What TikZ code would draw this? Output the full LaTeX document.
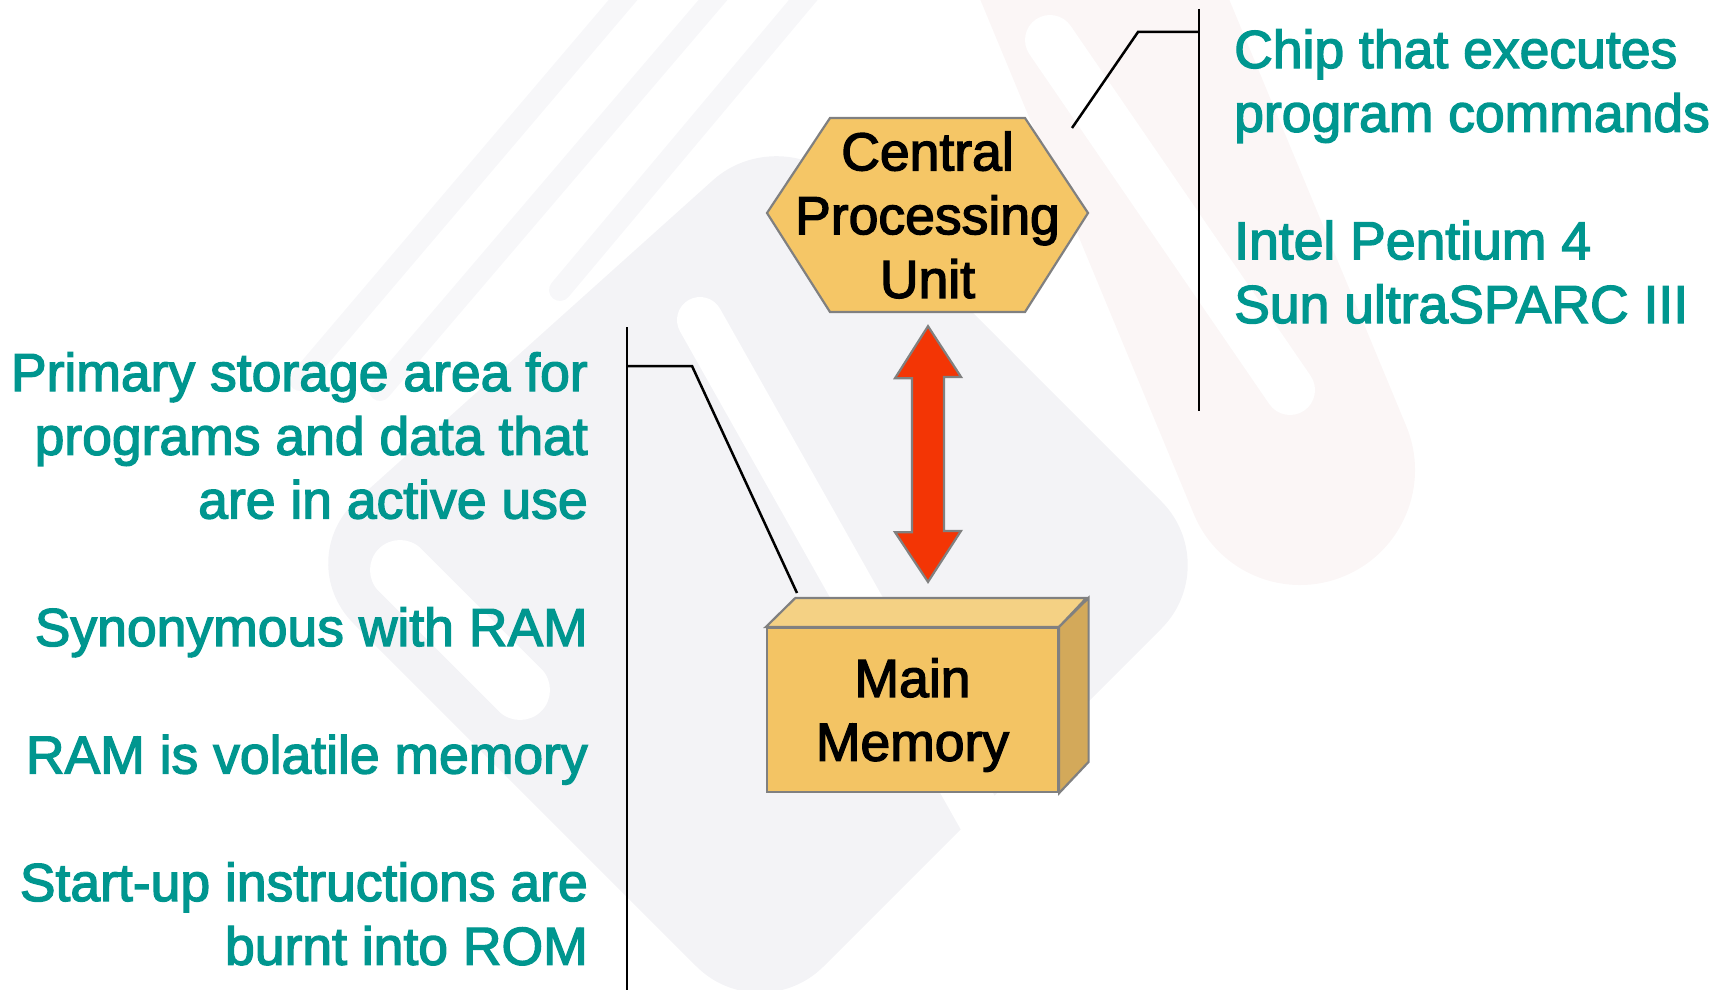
\documentclass[tikz,border=0pt]{standalone}
\usepackage{fontspec}
\setmainfont{Liberation Sans}[FakeBold=2.5]
\usetikzlibrary{calc}

\definecolor{notecol}{RGB}{0,150,143}
\definecolor{edgegray}{RGB}{128,128,128}
\definecolor{hexcol}{RGB}{245,198,102}
\definecolor{frontcol}{RGB}{243,196,100}
\definecolor{topcol}{RGB}{244,209,132}
\definecolor{sidecol}{RGB}{211,169,90}
\definecolor{arrowcol}{RGB}{243,53,5}
\definecolor{wmgrey}{RGB}{243,243,246}
\definecolor{wmfaint}{RGB}{247,247,249}
\definecolor{wmpink}{RGB}{251,246,246}

\begin{document}
\begin{tikzpicture}[x=1pt, y=-1pt,
  bigfont/.style={font=\fontsize{53.5}{63.75}\selectfont},
  note/.style={bigfont, text=notecol, inner sep=0pt},
  boxlabel/.style={bigfont, text=black, align=center, inner sep=0pt},
  edge/.style={draw=edgegray, line width=2.2pt, line join=miter},
  callout/.style={draw=black, line width=2.5pt},
  wmband/.style={line cap=round, line width=#1}]

\useasboundingbox (0,0) rectangle (1729,990);

% faint logo in the background
\draw[wmband=230pt, wmpink] (1080,-60) -- (1300,470);
\draw[wmband=50pt, white] (1050,40) -- (1290,390);
\fill[wmgrey, rounded corners=90pt] (780,120) -- (1225,565) -- (760,1030) -- (290,560) -- cycle;
\draw[wmband=46pt, white] (700,320) -- (992,838);
\draw[wmband=60pt, white] (400,570) -- (520,690);
\draw[wmband=22pt, wmfaint] (640,-20) -- (300,380);
\draw[wmband=22pt, wmfaint] (730,-20) -- (380,390);
\draw[wmband=22pt, wmfaint] (820,-20) -- (560,290);

% central processing unit (hexagon)
\coordinate (cpuC) at (927.5,215);
\filldraw[fill=hexcol, edge]
  ($(cpuC)+(-160.5,-2)$) -- ($(cpuC)+(-97.5,-97)$) -- ($(cpuC)+(97.5,-97)$) --
  ($(cpuC)+(160.5,-2)$) -- ($(cpuC)+(97.5,97)$) -- ($(cpuC)+(-97.5,97)$) -- cycle;
\node[minimum width=321pt, minimum height=194pt, inner sep=0pt] (cpu) at (cpuC) {};
\node[boxlabel] (cpulabel) at (cpu.center) {Central\\Processing\\Unit};

% main memory (3D box)
\node[fill=frontcol, edge, minimum width=291pt, minimum height=164pt, inner sep=0pt] (mem) at (912.5,710) {};
\filldraw[fill=topcol, edge] (mem.north west) -- ++(29.5,-29) -- ++(291,0) -- (mem.north east) -- cycle;
\filldraw[fill=sidecol, edge] (mem.north east) -- ++(29.5,-29) -- ++(0,164) -- (mem.south east) -- cycle;
\node[boxlabel] (memlabel) at ($(mem.center)+(0,5)$) {Main\\Memory};

% two-way transfer arrow
\coordinate (arrT) at ($(cpu.south)+(0.5,14)$);
\coordinate (arrB) at ($(mem.north)+(15.5,-45)$);
\filldraw[fill=arrowcol, edge]
  (arrT) -- ++(-33,52) -- ++(17,0) -- ++(0,154) -- ++(-17,0) -- (arrB)
  -- ++(33,-51) -- ++(-17,0) -- ++(0,-154) -- ++(17,0) -- cycle;

% callout brackets
\coordinate (rbarT) at (1199,9);
\coordinate (rbarB) at (1199,411);
\coordinate (rknee) at (1138,32);
\coordinate (rtip) at (1072,128);
\draw[callout] (rbarT) -- (rbarB);
\draw[callout] (rtip) -- (rknee) -- (rknee -| rbarT);

\coordinate (lbarT) at (627,327);
\coordinate (lbarB) at (627,992);
\coordinate (lknee) at (692,366);
\coordinate (ltip) at (797,593);
\draw[callout] (lbarT) -- (lbarB);
\draw[callout] (ltip) -- (lknee) -- (lknee -| lbarT);

% notes on the processor
\node[note, anchor=base west] (r1) at (1234,68) {Chip that executes};
\node[note, anchor=base west] (r2) at (1234,131.75) {program commands};
\node[note, anchor=base west] (r3) at (1234,259.25) {Intel Pentium 4};
\node[note, anchor=base west] (r4) at (1234,323) {Sun ultraSPARC III};

% notes on the memory
\node[note, anchor=base east] (l1) at (588,391) {Primary storage area for};
\node[note, anchor=base east] (l2) at (588,454.75) {programs and data that};
\node[note, anchor=base east] (l3) at (588,518.5) {are in active use};
\node[note, anchor=base east] (l4) at (588,646) {Synonymous with RAM};
\node[note, anchor=base east] (l5) at (588,773.5) {RAM is volatile memory};
\node[note, anchor=base east] (l6) at (588,901) {Start-up instructions are};
\node[note, anchor=base east] (l7) at (588,964.75) {burnt into ROM};

\end{tikzpicture}
\end{document}
